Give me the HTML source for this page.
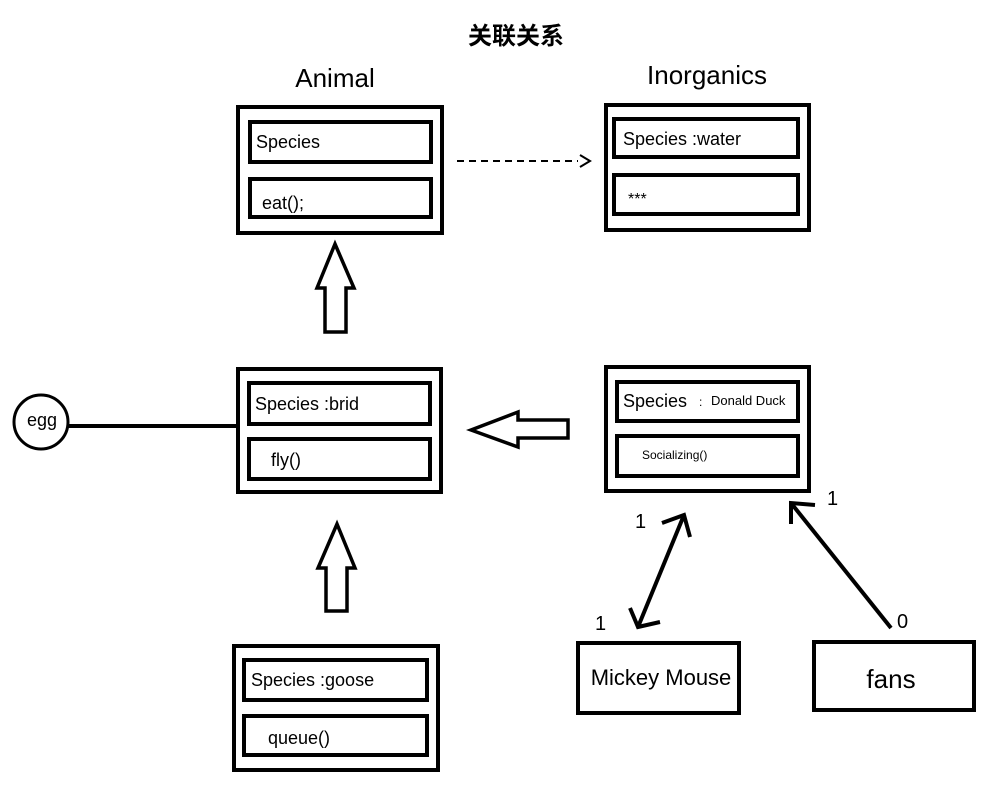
<!DOCTYPE html>
<html><head><meta charset="utf-8"><style>body{margin:0;background:#fff}svg{display:block}text{font-family:"Liberation Sans","Noto Sans CJK SC",sans-serif;fill:#000}</style></head>
<body>
<svg width="996" height="790" xmlns="http://www.w3.org/2000/svg">
<g fill="none" stroke="#000" stroke-width="4">
<rect x="238" y="107" width="204" height="126"/><rect x="250" y="122" width="181" height="40"/><rect x="250" y="179" width="181" height="38"/>
<rect x="606" y="105" width="203" height="125"/><rect x="614" y="119" width="184" height="38"/><rect x="614" y="175" width="184" height="39"/>
<rect x="238" y="369" width="203" height="123"/><rect x="249" y="383" width="181" height="41"/><rect x="249" y="439" width="181" height="40"/>
<rect x="234" y="646" width="204" height="124"/><rect x="244" y="660" width="183" height="40"/><rect x="244" y="716" width="183" height="39"/>
<rect x="606" y="367" width="203" height="124"/><rect x="617" y="382" width="181" height="39"/><rect x="617" y="436" width="181" height="40"/>
<rect x="578" y="643" width="161" height="70"/><rect x="814" y="642" width="160" height="68"/>
<circle cx="41" cy="422" r="27" stroke-width="3"/>
<line x1="68" y1="426" x2="238" y2="426"/>
<polygon points="335,244 354,288 346,288 346,332 325,332 325,288 317,288" stroke-width="3.5"/>
<polygon points="337,524 355,568 347,568 347,611 326,611 326,568 318,568" stroke-width="3.5"/>
<polygon points="471,430 518,412 518,420 568,420 568,438 518,438 518,447" stroke-width="3.5"/>
<line x1="457" y1="161" x2="578" y2="161" stroke-width="2" stroke-dasharray="7,5"/>
<polyline points="580,155 590,161 580,167" stroke-width="2"/>
<line x1="684" y1="515" x2="638" y2="627"/>
<polyline points="662,523 684,515 690,537"/>
<polyline points="630,608 638,627 660,622"/>
<line x1="891" y1="628" x2="791" y2="503"/>
<polyline points="791,524 791,503 815,505"/>
</g>
<text x="516" y="44" font-size="24" font-weight="bold" text-anchor="middle">关联关系</text>
<text x="335" y="87" font-size="26" text-anchor="middle">Animal</text>
<text x="707" y="84" font-size="26" text-anchor="middle">Inorganics</text>
<text x="256" y="148" font-size="18">Species</text>
<text x="262" y="209" font-size="18">eat();</text>
<text x="623" y="145" font-size="18">Species :water</text>
<text x="628" y="204" font-size="16">***</text>
<text x="255" y="410" font-size="18">Species :brid</text>
<text x="271" y="466" font-size="18">fly()</text>
<text x="251" y="686" font-size="18">Species :goose</text>
<text x="268" y="744" font-size="18">queue()</text>
<text x="623" y="407" font-size="18">Species</text>
<text x="699" y="406" font-size="12">:</text>
<text x="711" y="405" font-size="13">Donald Duck</text>
<text x="642" y="459" font-size="12">Socializing()</text>
<text x="661" y="685" font-size="22" text-anchor="middle">Mickey Mouse</text>
<text x="891" y="688" font-size="26" text-anchor="middle">fans</text>
<text x="27" y="426" font-size="18">egg</text>
<text x="635" y="528" font-size="20">1</text>
<text x="595" y="630" font-size="20">1</text>
<text x="827" y="505" font-size="20">1</text>
<text x="897" y="628" font-size="20">0</text>
</svg>
</body></html>
